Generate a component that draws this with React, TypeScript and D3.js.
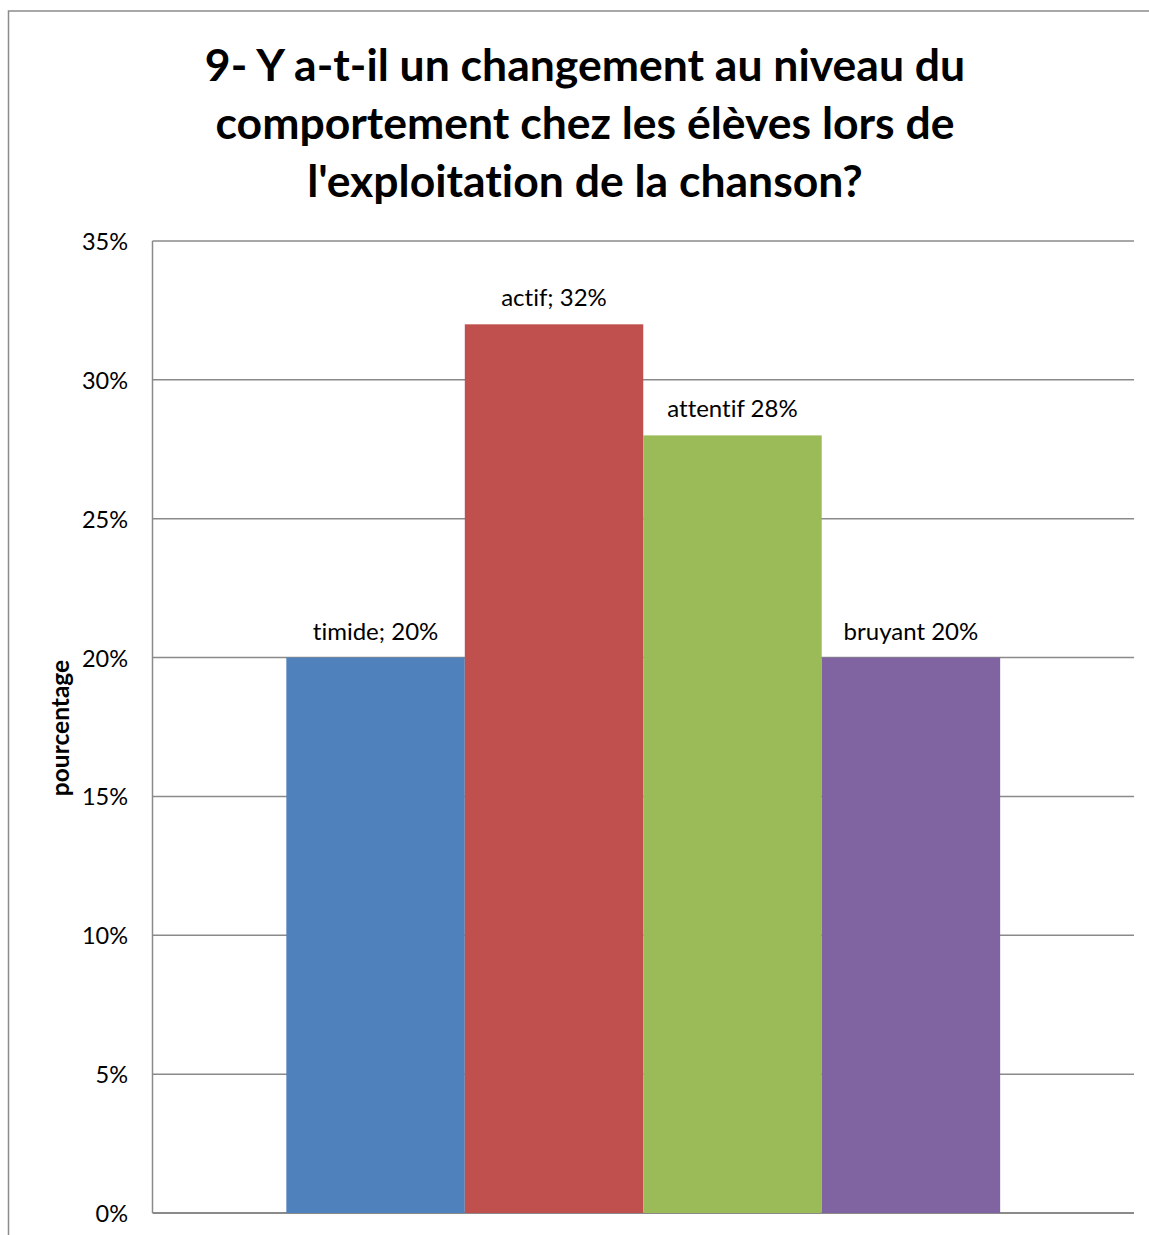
import { useMemo } from "react";
import * as d3 from "d3";

const categories = [""];
const seriesNames = ["timide", "actif", "attentif", "bruyant"];
const seriesValues = [0.2, 0.32, 0.28, 0.2];
const seriesLabels = ["timide; 20%", "actif; 32%", "attentif 28%", "bruyant 20%"];
const seriesColors = ["#4F81BD", "#C0504D", "#9BBB59", "#8064A2"];
const yTicks = [0, 0.05, 0.1, 0.15, 0.2, 0.25, 0.3, 0.35];
const titleLines = [
  "9- Y a-t-il un changement au niveau du",
  "comportement chez les élèves lors de",
  "l'exploitation de la chanson?",
];

const W = 1149;
const H = 1235;
const FONT = "Lato, 'Open Sans', sans-serif";
const noLig = { fontVariantLigatures: "none" as const };

export default function App() {
  const plot = { left: 152.5, right: 1134, top: 241, bottom: 1213 };

  const y = useMemo(
    () => d3.scaleLinear().domain([0, 0.35]).range([plot.bottom, plot.top]),
    []
  );
  const x0 = useMemo(
    () =>
      d3.scaleBand<string>()
        .domain(categories)
        .range([plot.left, plot.right])
        .paddingInner(0)
        .paddingOuter(0),
    []
  );
  // excel gap width 150%
  const x1 = useMemo(() => {
    const bw = x0.bandwidth();
    const gap = (bw * 1.5) / (seriesNames.length + 1.5);
    return d3.scaleBand<string>()
      .domain(seriesNames)
      .range([gap / 2, bw - gap / 2])
      .padding(0);
  }, [x0]);
  const fmt = d3.format(".0%");

  return (
    <div style={{ position: "absolute", left: 0, top: 0 }}>
      <svg width={W} height={H} style={{ display: "block", background: "#fff" }}>
        <rect x={8.5} y={11} width={W + 20} height={H + 20} fill="#fff" stroke="#8c8c8c" strokeWidth={1.5} />

        {titleLines.map((t, i) => (
          <text
            key={i}
            x={585} y={81 + i * 58}
            textAnchor="middle"
            fontFamily={FONT} fontWeight="700" fontSize={44.5}
            fill="#000" style={noLig}
          >
            {t}
          </text>
        ))}

        {/* gridlines */}
        {yTicks.map((t) => (
          <line
            key={t}
            x1={plot.left} x2={plot.right}
            y1={y(t)} y2={y(t)}
            stroke="#8a8a8a"
            strokeWidth={t === 0 ? 2.2 : 1.5}
          />
        ))}
        <line x1={plot.left} x2={plot.left} y1={plot.top} y2={plot.bottom} stroke="#8a8a8a" strokeWidth={1.5} />

        {yTicks.map((t) => (
          <text
            key={"l" + t}
            x={128} y={y(t)}
            textAnchor="end" dominantBaseline="central"
            fontFamily={FONT} fontSize={23.5} fill="#000"
          >
            {fmt(t)}
          </text>
        ))}

        <text
          transform={`translate(69,${(plot.top + plot.bottom) / 2 + 1}) rotate(-90)`}
          textAnchor="middle"
          fontFamily={FONT} fontWeight="700" fontSize={24.5}
          fill="#000"
        >
          pourcentage
        </text>

        {categories.map((c) => (
          <g key={c} transform={`translate(${x0(c)},0)`}>
            {seriesNames.map((s, i) => (
              <g key={s}>
                <rect
                  x={x1(s)} y={y(seriesValues[i])}
                  width={x1.bandwidth()}
                  height={plot.bottom - y(seriesValues[i])}
                  fill={seriesColors[i]}
                />
                <text
                  x={(x1(s) ?? 0) + x1.bandwidth() / 2}
                  y={y(seriesValues[i]) - 18}
                  textAnchor="middle"
                  fontFamily={FONT} fontSize={24} fill="#000" style={noLig}
                >
                  {seriesLabels[i]}
                </text>
              </g>
            ))}
          </g>
        ))}
      </svg>
    </div>
  );
}
